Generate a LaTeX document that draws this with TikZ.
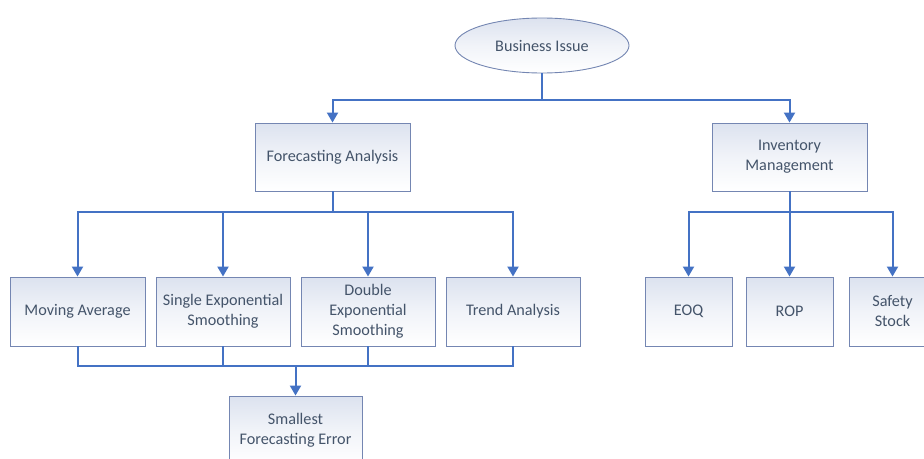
\documentclass[tikz,border=0pt]{standalone}
\usepackage{fontspec}
\setmainfont{Carlito}
\usetikzlibrary{arrows.meta,shapes.geometric}
\definecolor{txt}{HTML}{44546A}
\definecolor{edge}{HTML}{7486B2}
\definecolor{wire}{HTML}{4472C4}
\definecolor{shade}{HTML}{DCE2EF}
\tikzset{
  box/.style={draw=edge, line width=0.9pt, shading=axis, shading angle=135,
    top color=shade, bottom color=white, middle color=white!60!shade,
    align=center, text=txt, inner sep=2pt,
    font=\fontsize{16.2}{20}\selectfont},
  oval/.style={box, ellipse, minimum width=174pt, minimum height=55pt},
  wireline/.style={draw=wire, line width=2pt},
  arrowline/.style={wireline, -{Triangle[width=11pt,length=10pt]}}
}
\begin{document}
\begin{tikzpicture}[x=1pt,y=-1pt]
\useasboundingbox (0,0) rectangle (924,458);
\clip (0,0) rectangle (924,458);
\fill[white] (0,0) rectangle (924,458);

% top level
\node[oval] (biz) at (542,45.5) {Business Issue};

% second level
\node[box, minimum width=155pt, minimum height=68pt] (fa) at (332.5,157) {Forecasting Analysis};
\node[box, minimum width=155pt, minimum height=68pt] (im) at (789.5,157) {Inventory\\Management};

% forecasting methods
\node[box, minimum width=135pt, minimum height=69pt] (ma) at (77.5,311.5) {Moving Average};
\node[box, minimum width=134pt, minimum height=69pt] (se) at (223,311.5) {Single Exponential\\Smoothing};
\node[box, minimum width=134pt, minimum height=69pt] (de) at (368,311.5) {Double\\Exponential\\Smoothing};
\node[box, minimum width=134pt, minimum height=69pt] (tr) at (513,311.5) {Trend Analysis};

% inventory measures
\node[box, minimum width=87pt, minimum height=69pt] (eoq) at (688.5,311.5) {EOQ};
\node[box, minimum width=87pt, minimum height=69pt] (rop) at (789.5,311.5) {ROP};
\node[box, minimum width=87pt, minimum height=69pt] (ss) at (892.5,311.5) {Safety\\Stock};

% outcome
\node[box, minimum width=133pt, minimum height=69pt] (sfe) at (295.5,430.5) {Smallest\\Forecasting Error};

% junction points
\coordinate (j1) at (542,100);
\coordinate (j2) at (332.5,212);
\coordinate (j3) at (295.5,366);
\coordinate (j4) at (789.5,212);

% business issue to second level
\draw[wireline] (biz.south) -- (j1);
\draw[arrowline] (j1) -| (fa.north);
\draw[arrowline] (j1) -| (im.north);

% forecasting analysis to methods
\draw[wireline] (fa.south) -- (j2);
\draw[arrowline] (j2) -| (ma.north);
\draw[arrowline] (j2) -| (se.north);
\draw[arrowline] (j2) -| (de.north);
\draw[arrowline] (j2) -| (tr.north);

% methods merge into the outcome
\draw[wireline] (ma.south) -- (ma.south |- j3) -- (tr.south |- j3) -- (tr.south);
\draw[wireline] (se.south) -- (se.south |- j3);
\draw[wireline] (de.south) -- (de.south |- j3);
\draw[arrowline] (j3) -- (sfe.north);

% inventory management to measures
\draw[wireline] (im.south) -- (j4);
\draw[arrowline] (j4) -| (eoq.north);
\draw[arrowline] (j4) -- (rop.north);
\draw[arrowline] (j4) -| (ss.north);
\end{tikzpicture}
\end{document}
